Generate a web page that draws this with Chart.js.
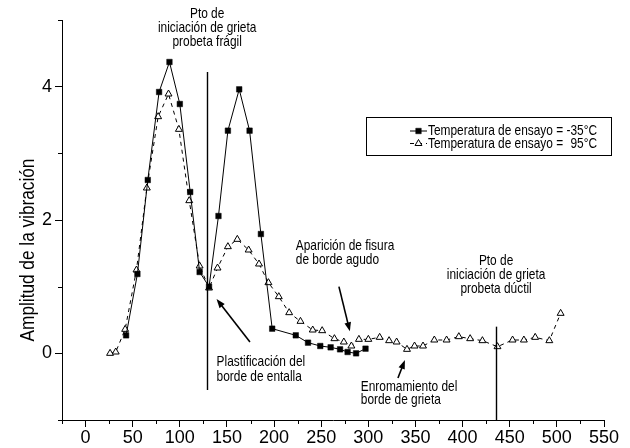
<!DOCTYPE html>
<html>
<head>
<meta charset="utf-8">
<script src="https://cdn.jsdelivr.net/npm/chart.js@4/dist/chart.umd.min.js"></script>
<style>
  html, body { margin: 0; padding: 0; background: #fff; }
  canvas { display: block; }
</style>
</head>
<body>
<canvas id="c" width="630" height="448"></canvas>
<script>
// Ensayo a -35 °C (probeta frágil)
const xFria = [43, 55, 66, 78, 89, 100, 111, 121, 131, 141, 151, 163, 174, 186, 198, 223, 236, 249, 260, 270, 278, 287, 297];
const yFria = [0.27, 1.19, 2.6, 3.92, 4.37, 3.74, 2.42, 1.22, 1.0, 2.06, 3.34, 3.96, 3.34, 1.79, 0.37, 0.27, 0.16, 0.11, 0.09, 0.06, 0.02, 0.0, 0.07];

// Ensayo a 95 °C (probeta dúctil)
const xCaliente = [26, 32, 42, 54, 65, 77, 88, 99, 110, 121, 131, 140, 151, 161, 173, 184, 194, 205, 216, 228, 241, 251, 264, 274, 282, 290, 300, 312, 322, 330, 341, 349, 358, 370, 383, 396, 408, 421, 437, 453, 465, 477, 492, 504];
const yCaliente = [0.0, 0.02, 0.36, 1.25, 2.48, 3.55, 3.89, 3.36, 2.29, 1.31, 0.98, 1.28, 1.6, 1.71, 1.55, 1.34, 1.06, 0.85, 0.61, 0.48, 0.35, 0.34, 0.22, 0.17, 0.11, 0.21, 0.21, 0.24, 0.19, 0.17, 0.06, 0.11, 0.11, 0.2, 0.2, 0.25, 0.22, 0.19, 0.1, 0.2, 0.2, 0.24, 0.19, 0.6];

const seriesNames = ['Temperatura de ensayo = -35°C', 'Temperatura de ensayo =  95°C'];
const xLabelled = [0, 50, 100, 150, 200, 250, 300, 350, 400, 450, 500, 550];
const yLabelled = [0, 2, 4];
const yTitle = 'Amplitud de la vibración';

// Iniciación de grieta: x de la línea vertical y su extensión en y
const crackFragil = { x: 129, y0: -0.55, y1: 4.22 };
const crackDuctil = { x: 435.5, y0: -1, y1: 0.4 };

// Notas (posiciones en unidades de los ejes)
const notes = [
  { lines: ['Pto de', 'iniciación de grieta', 'probeta frágil'], x: 129, y: 5.09, dy: 0.21, align: 'center' },
  { lines: ['Aparición de fisura', 'de borde agudo'], x: 223, y: 1.61, dy: 0.21, align: 'left' },
  { lines: ['Plastificación del', 'borde de entalla'], x: 139, y: -0.126, dy: 0.225, align: 'left' },
  { lines: ['Enromamiento del', 'borde de grieta'], x: 292, y: -0.5, dy: 0.2, align: 'left' },
  { lines: ['Pto de', 'iniciación de grieta', 'probeta dúctil'], x: 435.5, y: 1.385, dy: 0.21, align: 'center' }
];
const arrows = [
  { from: [174.4, 0.17], to: [139, 0.815] },
  { from: [268.8, 1.0], to: [280.4, 0.33] },
  { from: [331.4, -0.37], to: [338.8, -0.1] }
];

// Fuente estrecha, con respaldo comprimido si no existe
const probe = document.createElement('canvas').getContext('2d');
function fontAvailable(name) {
  const s = 'Temperatura 0123456789';
  probe.font = '40px monospace';
  const a = probe.measureText(s).width;
  probe.font = '40px "' + name + '", monospace';
  const b = probe.measureText(s).width;
  return Math.abs(a - b) > 0.5;
}
const NARROW = fontAvailable('Liberation Sans Narrow');
const FAMILY = NARROW ? '"Liberation Sans Narrow", "Liberation Sans", Arial, sans-serif' : '"Liberation Sans", Arial, sans-serif';
const SQUEEZE = NARROW ? 1 : 0.82;

function putText(ctx, str, x, y, size, align, rot) {
  ctx.save();
  ctx.font = size + 'px ' + FAMILY;
  ctx.fillStyle = '#000';
  ctx.textBaseline = 'middle';
  ctx.textAlign = align;
  ctx.translate(x, y);
  if (rot) ctx.rotate(rot);
  ctx.scale(SQUEEZE, 1);
  ctx.fillText(str, 0, 0);
  ctx.restore();
}

function drawArrow(ctx, x0, y0, x1, y1) {
  const ang = Math.atan2(y1 - y0, x1 - x0);
  const len = 9, half = 3.3;
  ctx.save();
  ctx.strokeStyle = '#000';
  ctx.fillStyle = '#000';
  ctx.lineWidth = 1.6;
  ctx.beginPath();
  ctx.moveTo(x0, y0);
  ctx.lineTo(x1 - Math.cos(ang) * len * 0.8, y1 - Math.sin(ang) * len * 0.8);
  ctx.stroke();
  ctx.beginPath();
  ctx.moveTo(x1, y1);
  ctx.lineTo(x1 - Math.cos(ang) * len - Math.sin(ang) * half, y1 - Math.sin(ang) * len + Math.cos(ang) * half);
  ctx.lineTo(x1 - Math.cos(ang) * len + Math.sin(ang) * half, y1 - Math.sin(ang) * len - Math.cos(ang) * half);
  ctx.closePath();
  ctx.fill();
  ctx.restore();
}

const decorations = {
  id: 'decorations',
  afterDraw(chart) {
    const ctx = chart.ctx;
    const xs = chart.scales.x, ys = chart.scales.y;
    const px = v => xs.getPixelForValue(v);
    const py = v => ys.getPixelForValue(v);

    ctx.save();
    ctx.strokeStyle = '#000';
    ctx.lineWidth = 1;

    // marcas menores de los ejes
    ctx.beginPath();
    xs.ticks.forEach(t => {
      if (xLabelled.indexOf(t.value) === -1) {
        const p = Math.round(px(t.value)) + 0.5;
        ctx.moveTo(p, xs.top);
        ctx.lineTo(p, xs.top + 4);
      }
    });
    ys.ticks.forEach(t => {
      if (yLabelled.indexOf(t.value) === -1) {
        const p = Math.round(py(t.value)) + 0.5;
        ctx.moveTo(ys.right - 4, p);
        ctx.lineTo(ys.right, p);
      }
    });
    ctx.stroke();

    // líneas de iniciación de grieta
    [crackFragil, crackDuctil].forEach(c => {
      const p = Math.round(px(c.x)) + 0.5;
      ctx.beginPath();
      ctx.lineWidth = 1.4;
      ctx.moveTo(p, py(c.y1));
      ctx.lineTo(p, py(c.y0));
      ctx.stroke();
    });
    ctx.restore();

    // notas
    notes.forEach(n => {
      const x0 = px(n.x);
      n.lines.forEach((s, i) => {
        putText(ctx, s, x0, py(n.y - i * n.dy), 14.5, n.align);
      });
    });
    arrows.forEach(a => drawArrow(ctx, px(a.from[0]), py(a.from[1]), px(a.to[0]), py(a.to[1])));

    // título del eje y
    putText(ctx, yTitle, 28, (py(-0.1) + py(3.2)) / 2, 21, 'center', -Math.PI / 2);

    // leyenda
    const bx = 366.5, by = 117.5, bw = 245, bh = 38;
    ctx.save();
    ctx.strokeStyle = '#000';
    ctx.lineWidth = 1;
    ctx.strokeRect(bx, by, bw, bh);
    ctx.restore();
    const rows = [131, 143.5];
    chart.data.datasets.forEach((ds, i) => {
      const y = rows[i];
      ctx.save();
      ctx.strokeStyle = ds.borderColor;
      ctx.lineWidth = ds.borderWidth;
      ctx.setLineDash(ds.borderDash || []);
      ctx.beginPath();
      ctx.moveTo(410, y);
      ctx.lineTo(427, y);
      ctx.stroke();
      ctx.setLineDash([]);
      ctx.fillStyle = ds.pointBackgroundColor;
      ctx.strokeStyle = ds.pointBorderColor;
      ctx.lineWidth = ds.pointBorderWidth;
      Chart.helpers.drawPoint(ctx, {
        pointStyle: ds.pointStyle, radius: ds.pointRadius, borderWidth: ds.pointBorderWidth, rotation: 0
      }, 418.5, y);
      ctx.restore();
    });
    // texto de la leyenda
    putText(ctx, seriesNames[0], 428, rows[0], 14.5, 'left');
    putText(ctx, 'Temperatura de ensayo =', 428, rows[1], 14.5, 'left');
    ctx.save();
    ctx.font = '14.5px ' + FAMILY;
    const endX = 428 + ctx.measureText(seriesNames[0]).width * SQUEEZE;
    ctx.restore();
    putText(ctx, seriesNames[1].split('=')[1].trim(), endX, rows[1], 14.5, 'right');
  }
};

const toPoints = (xs, ys) => xs.map((x, i) => ({ x: x, y: ys[i] }));

const chart = new Chart(document.getElementById('c'), {
  type: 'line',
  data: {
    datasets: [
      {
        label: seriesNames[0],
        data: toPoints(xFria, yFria),
        borderColor: '#000',
        borderWidth: 1,
        pointStyle: 'rect',
        pointRadius: 3.9,
        pointBackgroundColor: '#000',
        pointBorderColor: '#000',
        pointBorderWidth: 0.5,
        tension: 0,
        fill: false
      },
      {
        label: seriesNames[1],
        data: toPoints(xCaliente, yCaliente),
        borderColor: '#000',
        borderWidth: 1,
        borderDash: [4, 4],
        pointStyle: 'triangle',
        pointRadius: 4,
        pointBackgroundColor: '#fff',
        pointBorderColor: '#000',
        pointBorderWidth: 1,
        tension: 0,
        fill: false
      }
    ]
  },
  options: {
    responsive: false,
    animation: false,
    devicePixelRatio: 1,
    events: [],
    layout: { padding: { top: 20, right: 26, left: 0, bottom: 0 } },
    plugins: { legend: { display: false }, tooltip: { enabled: false } },
    scales: {
      x: {
        type: 'linear',
        min: -25,
        max: 550,
        afterFit: s => { s.height = 28; },
        border: { display: true, color: '#000', width: 1 },
        grid: {
          drawOnChartArea: false,
          drawTicks: true,
          tickLength: 7,
          tickWidth: 1,
          tickColor: c => (c.tick && xLabelled.indexOf(c.tick.value) !== -1) ? '#000' : 'rgba(0,0,0,0)'
        },
        ticks: {
          stepSize: 25,
          autoSkip: false,
          maxRotation: 0,
          padding: 2,
          color: '#000',
          font: { family: FAMILY, size: 18, lineHeight: 1 },
          callback: v => xLabelled.indexOf(v) !== -1 ? String(v) : ''
        }
      },
      y: {
        type: 'linear',
        min: -1,
        max: 5,
        afterFit: s => { s.width = 62; },
        border: { display: true, color: '#000', width: 1 },
        grid: {
          drawOnChartArea: false,
          drawTicks: true,
          tickLength: 7,
          tickWidth: 1,
          tickColor: c => (c.tick && yLabelled.indexOf(c.tick.value) !== -1) ? '#000' : 'rgba(0,0,0,0)'
        },
        ticks: {
          stepSize: 1,
          autoSkip: false,
          padding: 3,
          color: '#000',
          font: { family: FAMILY, size: 18, lineHeight: 1 },
          callback: v => yLabelled.indexOf(v) !== -1 ? String(v) : ''
        }
      }
    }
  },
  plugins: [decorations]
});
</script>
</body>
</html>
